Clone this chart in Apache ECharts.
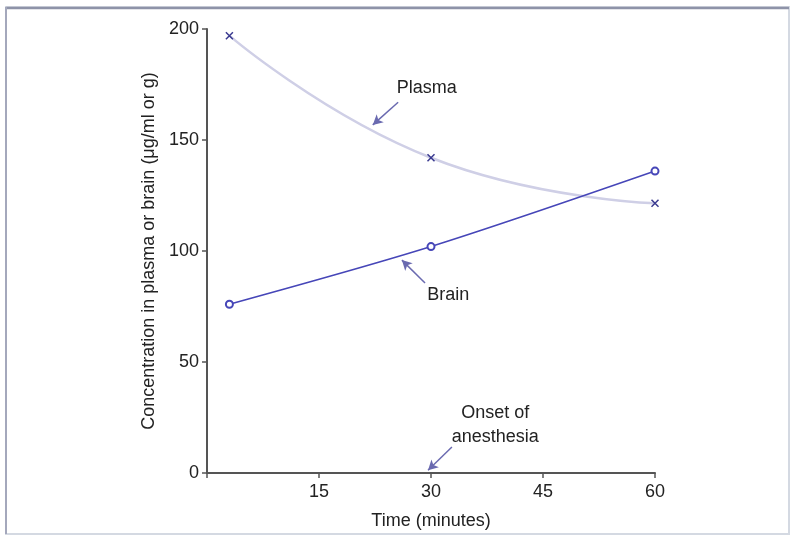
<!DOCTYPE html>
<html><head><meta charset="utf-8">
<script src="https://cdn.jsdelivr.net/npm/echarts@6/dist/echarts.min.js"></script>
<style>html,body{margin:0;padding:0;background:#fff}#c{width:796px;height:537px}</style>
</head><body><div id="c"></div>
<script>
var timeMin = [3, 30, 60];
var plasma = [197, 142, 121.5];
var brain = [76, 102, 136];
var yTicks = [0, 50, 100, 150, 200];
var xTicks = [15, 30, 45, 60];
var annotations = [
  {text: 'Plasma', at: [25.4, 173.5], align: 'left', arrowFrom: [25.6, 167], arrowTo: [22.2, 156.8]},
  {text: 'Brain', at: [29.5, 80], align: 'left', arrowFrom: [29.2, 85.6], arrowTo: [26.1, 95.9]},
  {text: 'Onset of\nanesthesia', at: [38.6, 21.5], align: 'center', arrowFrom: [32.8, 11.7], arrowTo: [29.6, 1.2]}
];
var font = 'Liberation Sans, Arial, sans-serif';
var chart = echarts.init(document.getElementById('c'));
function pairs(xs, ys){return xs.map(function(x,i){return [x, ys[i]];});}
var arrowLines = annotations.map(function(a){
  return [{coord: a.arrowFrom, symbol: 'none'}, {coord: a.arrowTo, symbol: 'arrow'}];
});
chart.setOption({
  animation: false,
  backgroundColor: '#fff',
  grid: {left: 207, right: 141, top: 29, bottom: 64},
  xAxis: {
    type: 'value', min: 0, max: 60, interval: 15,
    name: 'Time (minutes)', nameLocation: 'middle', nameGap: 39,
    nameTextStyle: {fontFamily: font, fontSize: 18, color: '#222'},
    axisLine: {lineStyle: {color: '#555', width: 2}},
    axisTick: {length: 5, lineStyle: {color: '#555', width: 1.5}},
    axisLabel: {fontFamily: font, fontSize: 18, color: '#222', margin: 10,
      formatter: function(v){return xTicks.indexOf(v) >= 0 ? String(v) : '';}},
    splitLine: {show: false}
  },
  yAxis: {
    type: 'value', min: 0, max: 200, interval: 50,
    name: 'Concentration in plasma or brain (\u03bcg/ml or g)', nameLocation: 'middle', nameGap: 44,
    nameTextStyle: {fontFamily: font, fontSize: 18, color: '#222'},
    axisLine: {show: true, lineStyle: {color: '#555', width: 2}},
    axisTick: {show: true, length: 5, lineStyle: {color: '#555', width: 1.5}},
    axisLabel: {fontFamily: font, fontSize: 18, color: '#222', margin: 8,
      formatter: function(v){return yTicks.indexOf(v) >= 0 ? String(v) : '';}},
    splitLine: {show: false}
  },
  series: [
    {
      name: 'Plasma', type: 'line', smooth: 0.5, data: pairs(timeMin, plasma),
      lineStyle: {color: '#cfcfe6', width: 2.5},
      symbol: 'path://M0,0L10,10M10,0L0,10', symbolSize: 7,
      itemStyle: {color: 'none', borderColor: '#3a3a90', borderWidth: 1.5}
    },
    {
      name: 'Brain', type: 'line', smooth: 0.3, data: pairs(timeMin, brain),
      lineStyle: {color: '#4646b8', width: 1.5},
      symbol: 'emptyCircle', symbolSize: 7,
      itemStyle: {color: '#4646b8', borderWidth: 1.5},
      markLine: {
        silent: true, symbolSize: [8, 10],
        lineStyle: {color: '#6a6ab0', width: 1.5, type: 'solid'},
        label: {show: false},
        data: arrowLines
      }
    }
  ]
});
var g = [
  {type: 'rect', shape: {x: 6, y: 7, width: 783, height: 527}, style: {fill: 'none', stroke: '#d4d9e2', lineWidth: 2}},
  {type: 'line', shape: {x1: 6, y1: 8, x2: 789, y2: 8}, style: {stroke: '#8e93a8', lineWidth: 2.5}},
  {type: 'line', shape: {x1: 6, y1: 7, x2: 6, y2: 534}, style: {stroke: '#a4a8bc', lineWidth: 2}}
];
annotations.forEach(function(a){
  var p = chart.convertToPixel({gridIndex: 0}, a.at);
  g.push({type: 'text', x: p[0], y: p[1], style: {text: a.text, font: '18px ' + font, fill: '#222',
    align: a.align, verticalAlign: 'middle', lineHeight: 24}});
});
chart.setOption({graphic: g});
</script></body></html>
